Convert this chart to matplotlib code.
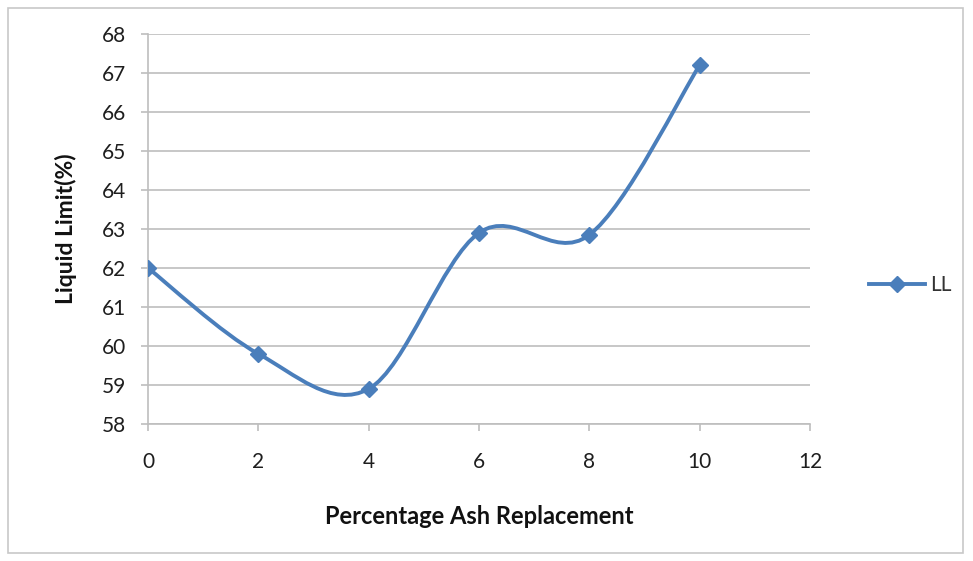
import matplotlib.pyplot as plt
from matplotlib.path import Path
from matplotlib.patches import PathPatch, Rectangle
from matplotlib.lines import Line2D

ash = [0, 2, 4, 6, 8, 10]
ll = [62.0, 59.8, 58.9, 62.9, 62.85, 67.2]
xticks = [0, 2, 4, 6, 8, 10, 12]
yticks = [58, 59, 60, 61, 62, 63, 64, 65, 66, 67, 68]

blue = "#4A7EBB"
grid_c = "#BEBEBE"

plt.rcParams['font.family'] = ['Lato', 'DejaVu Sans']

fig = plt.figure(figsize=(9.73, 5.61), dpi=100)
ax = fig.add_axes([0.1521, 0.2442, 0.6804, 0.6952])

# smoothed line like excel: bezier segments through the points
pts = list(zip(ash, ll))
verts = [pts[0]]
codes = [Path.MOVETO]
for i in range(len(pts) - 1):
  p0 = pts[max(i - 1, 0)]
  p1 = pts[i]
  p2 = pts[i + 1]
  p3 = pts[min(i + 2, len(pts) - 1)]
  c1 = (p1[0] + (p2[0] - p0[0]) / 6, p1[1] + (p2[1] - p0[1]) / 6)
  c2 = (p2[0] - (p3[0] - p1[0]) / 6, p2[1] - (p3[1] - p1[1]) / 6)
  verts += [c1, c2, p2]
  codes += [Path.CURVE4] * 3
ax.add_patch(PathPatch(Path(verts, codes), facecolor="none", edgecolor=blue,
                       lw=2.8, capstyle="round", joinstyle="round", zorder=3))
ax.plot(ash, ll, ls="none", marker="D", ms=8.5, color=blue, zorder=4)

ax.set_xlim(0, 12)
ax.set_ylim(58, 68)
ax.set_xticks(xticks)
ax.set_yticks(yticks)
ax.yaxis.grid(True, color=grid_c, lw=1.2)
ax.set_axisbelow(True)
for s in ["top", "right"]:
  ax.spines[s].set_visible(False)
for s in ["left", "bottom"]:
  ax.spines[s].set_color(grid_c)
  ax.spines[s].set_linewidth(1.2)
ax.tick_params(axis="both", direction="out", length=5, color=grid_c, width=1.2,
               labelsize=15, labelcolor="#1E1E1E")
ax.tick_params(axis="x", pad=15)
ax.tick_params(axis="y", pad=11)

ax.set_xlabel("Percentage Ash Replacement", fontsize=17, fontweight="bold",
              color="#111111", labelpad=24)
ax.set_ylabel("Liquid Limit(%)", fontsize=16.5, fontweight="bold",
              color="#111111", labelpad=18)

handle = Line2D([], [], color=blue, lw=2.8, marker="D", ms=8.5)
fig.legend([handle], ["LL"], loc="center left", bbox_to_anchor=(0.874, 0.492),
           frameon=False, fontsize=15, handlelength=2.7, handletextpad=0.25,
           labelcolor="#333333")

fig.add_artist(Rectangle((0.008, 0.014), 0.982, 0.972, transform=fig.transFigure,
                         fill=False, edgecolor="#C8C8C8", lw=1.2))

fig.savefig("out.png", dpi=100)
